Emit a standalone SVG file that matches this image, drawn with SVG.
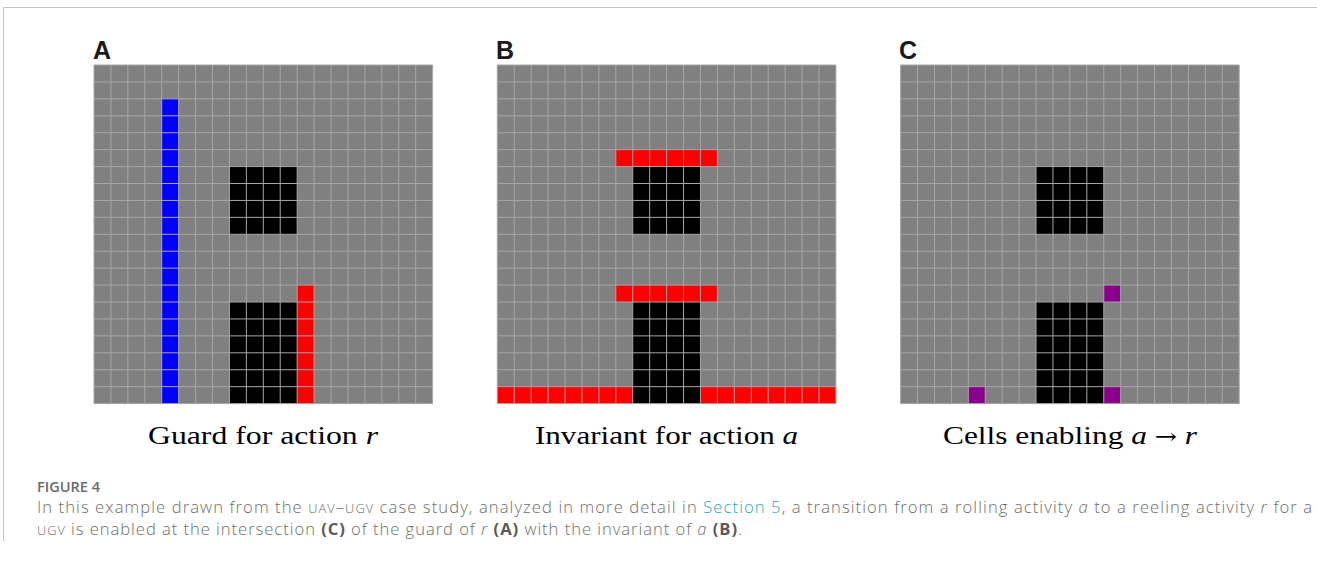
<svg xmlns="http://www.w3.org/2000/svg" xmlns:xlink="http://www.w3.org/1999/xlink" width="1317" height="566" viewBox="0 0 1317 566">
<style>
.bg{fill:#808080}
.blk{fill:#000000}
.red{fill:#ff0000}
.blu{fill:#0000ff}
.pur{fill:#8b008b}
.gl{fill:none;stroke:#a6a6a6;stroke-width:1;vector-effect:non-scaling-stroke}
.lbl{font-family:"Liberation Sans",Arial,sans-serif;font-weight:bold;font-size:25px;fill:#1a1a1a}
.sub{font-family:"Liberation Serif","Times New Roman",serif;font-size:26px;fill:#000}
.it{font-style:italic}
.arr{font-family:"DejaVu Serif",serif;font-size:22px}
.cap{font-family:"Open Sans","Liberation Sans",sans-serif;font-size:16.6px;font-weight:300;fill:#6e6e6e}
.sc{font-size:12.8px}
.b{font-weight:bold;fill:#5a5a5a}
.link{fill:#1aabc7}
.fig{font-family:"Open Sans","Liberation Sans",sans-serif;font-size:14px;font-weight:600;fill:#6a6a6a}
.frame{stroke:#c4c4c4;stroke-width:1;fill:none}
</style>
<defs>
<path id="grid" class="gl" d="M0 0V20M1 0V20M2 0V20M3 0V20M4 0V20M5 0V20M6 0V20M7 0V20M8 0V20M9 0V20M10 0V20M11 0V20M12 0V20M13 0V20M14 0V20M15 0V20M16 0V20M17 0V20M18 0V20M19 0V20M20 0V20M0 0H20M0 1H20M0 2H20M0 3H20M0 4H20M0 5H20M0 6H20M0 7H20M0 8H20M0 9H20M0 10H20M0 11H20M0 12H20M0 13H20M0 14H20M0 15H20M0 16H20M0 17H20M0 18H20M0 19H20M0 20H20"/>
<g id="obst">
<rect class="blk" x="8" y="6" width="4" height="4"/>
<rect class="blk" x="8" y="14" width="4" height="6"/>
</g>
</defs>
<path class="frame" d="M3.5 541V7.5H1317"/>

<g id="panelA">
<text class="lbl" x="93" y="59">A</text>
<g transform="translate(94,65) scale(16.93)">
<rect class="bg" x="0" y="0" width="20" height="20"/>
<rect class="blu" x="4" y="2" width="1" height="18"/>
<use xlink:href="#obst"/>
<rect class="red" x="12" y="13" width="1" height="7"/>
<use xlink:href="#grid"/>
</g>
<text class="sub" x="148" y="444" textLength="230" lengthAdjust="spacingAndGlyphs">Guard for action <tspan class="it">r</tspan></text>
</g>

<g id="panelB">
<text class="lbl" x="496" y="59">B</text>
<g transform="translate(497.3,65) scale(16.93)">
<rect class="bg" x="0" y="0" width="20" height="20"/>
<use xlink:href="#obst"/>
<rect class="red" x="7" y="5" width="6" height="1"/>
<rect class="red" x="7" y="13" width="6" height="1"/>
<rect class="red" x="0" y="19" width="8" height="1"/>
<rect class="red" x="12" y="19" width="8" height="1"/>
<use xlink:href="#grid"/>
</g>
<text class="sub" x="535" y="444" textLength="263" lengthAdjust="spacingAndGlyphs">Invariant for action <tspan class="it">a</tspan></text>
</g>

<g id="panelC">
<text class="lbl" x="899" y="59">C</text>
<g transform="translate(900.6,65) scale(16.93)">
<rect class="bg" x="0" y="0" width="20" height="20"/>
<use xlink:href="#obst"/>
<rect class="pur" x="12" y="13" width="1" height="1"/>
<rect class="pur" x="12" y="19" width="1" height="1"/>
<rect class="pur" x="4" y="19" width="1" height="1"/>
<use xlink:href="#grid"/>
</g>
<text class="sub" x="943" y="444" textLength="254" lengthAdjust="spacingAndGlyphs">Cells enabling <tspan class="it">a</tspan> <tspan class="arr">→</tspan> <tspan class="it">r</tspan></text>
</g>

<g id="caption">
<text class="fig" x="37" y="492" textLength="63" lengthAdjust="spacingAndGlyphs">FIGURE 4</text>
<text class="cap" x="37" y="513" textLength="1275" lengthAdjust="spacing">In this example drawn from the <tspan class="sc">UAV</tspan>–<tspan class="sc">UGV</tspan> case study, analyzed in more detail in <tspan class="link">Section 5</tspan>, a transition from a rolling activity <tspan class="it">a</tspan> to a reeling activity <tspan class="it">r</tspan> for a</text>
<text class="cap" x="37" y="535" textLength="705" lengthAdjust="spacing"><tspan class="sc">UGV</tspan> is enabled at the intersection <tspan class="b">(C)</tspan> of the guard of <tspan class="it">r</tspan> <tspan class="b">(A)</tspan> with the invariant of <tspan class="it">a</tspan> <tspan class="b">(B)</tspan>.</text>
</g>
</svg>
